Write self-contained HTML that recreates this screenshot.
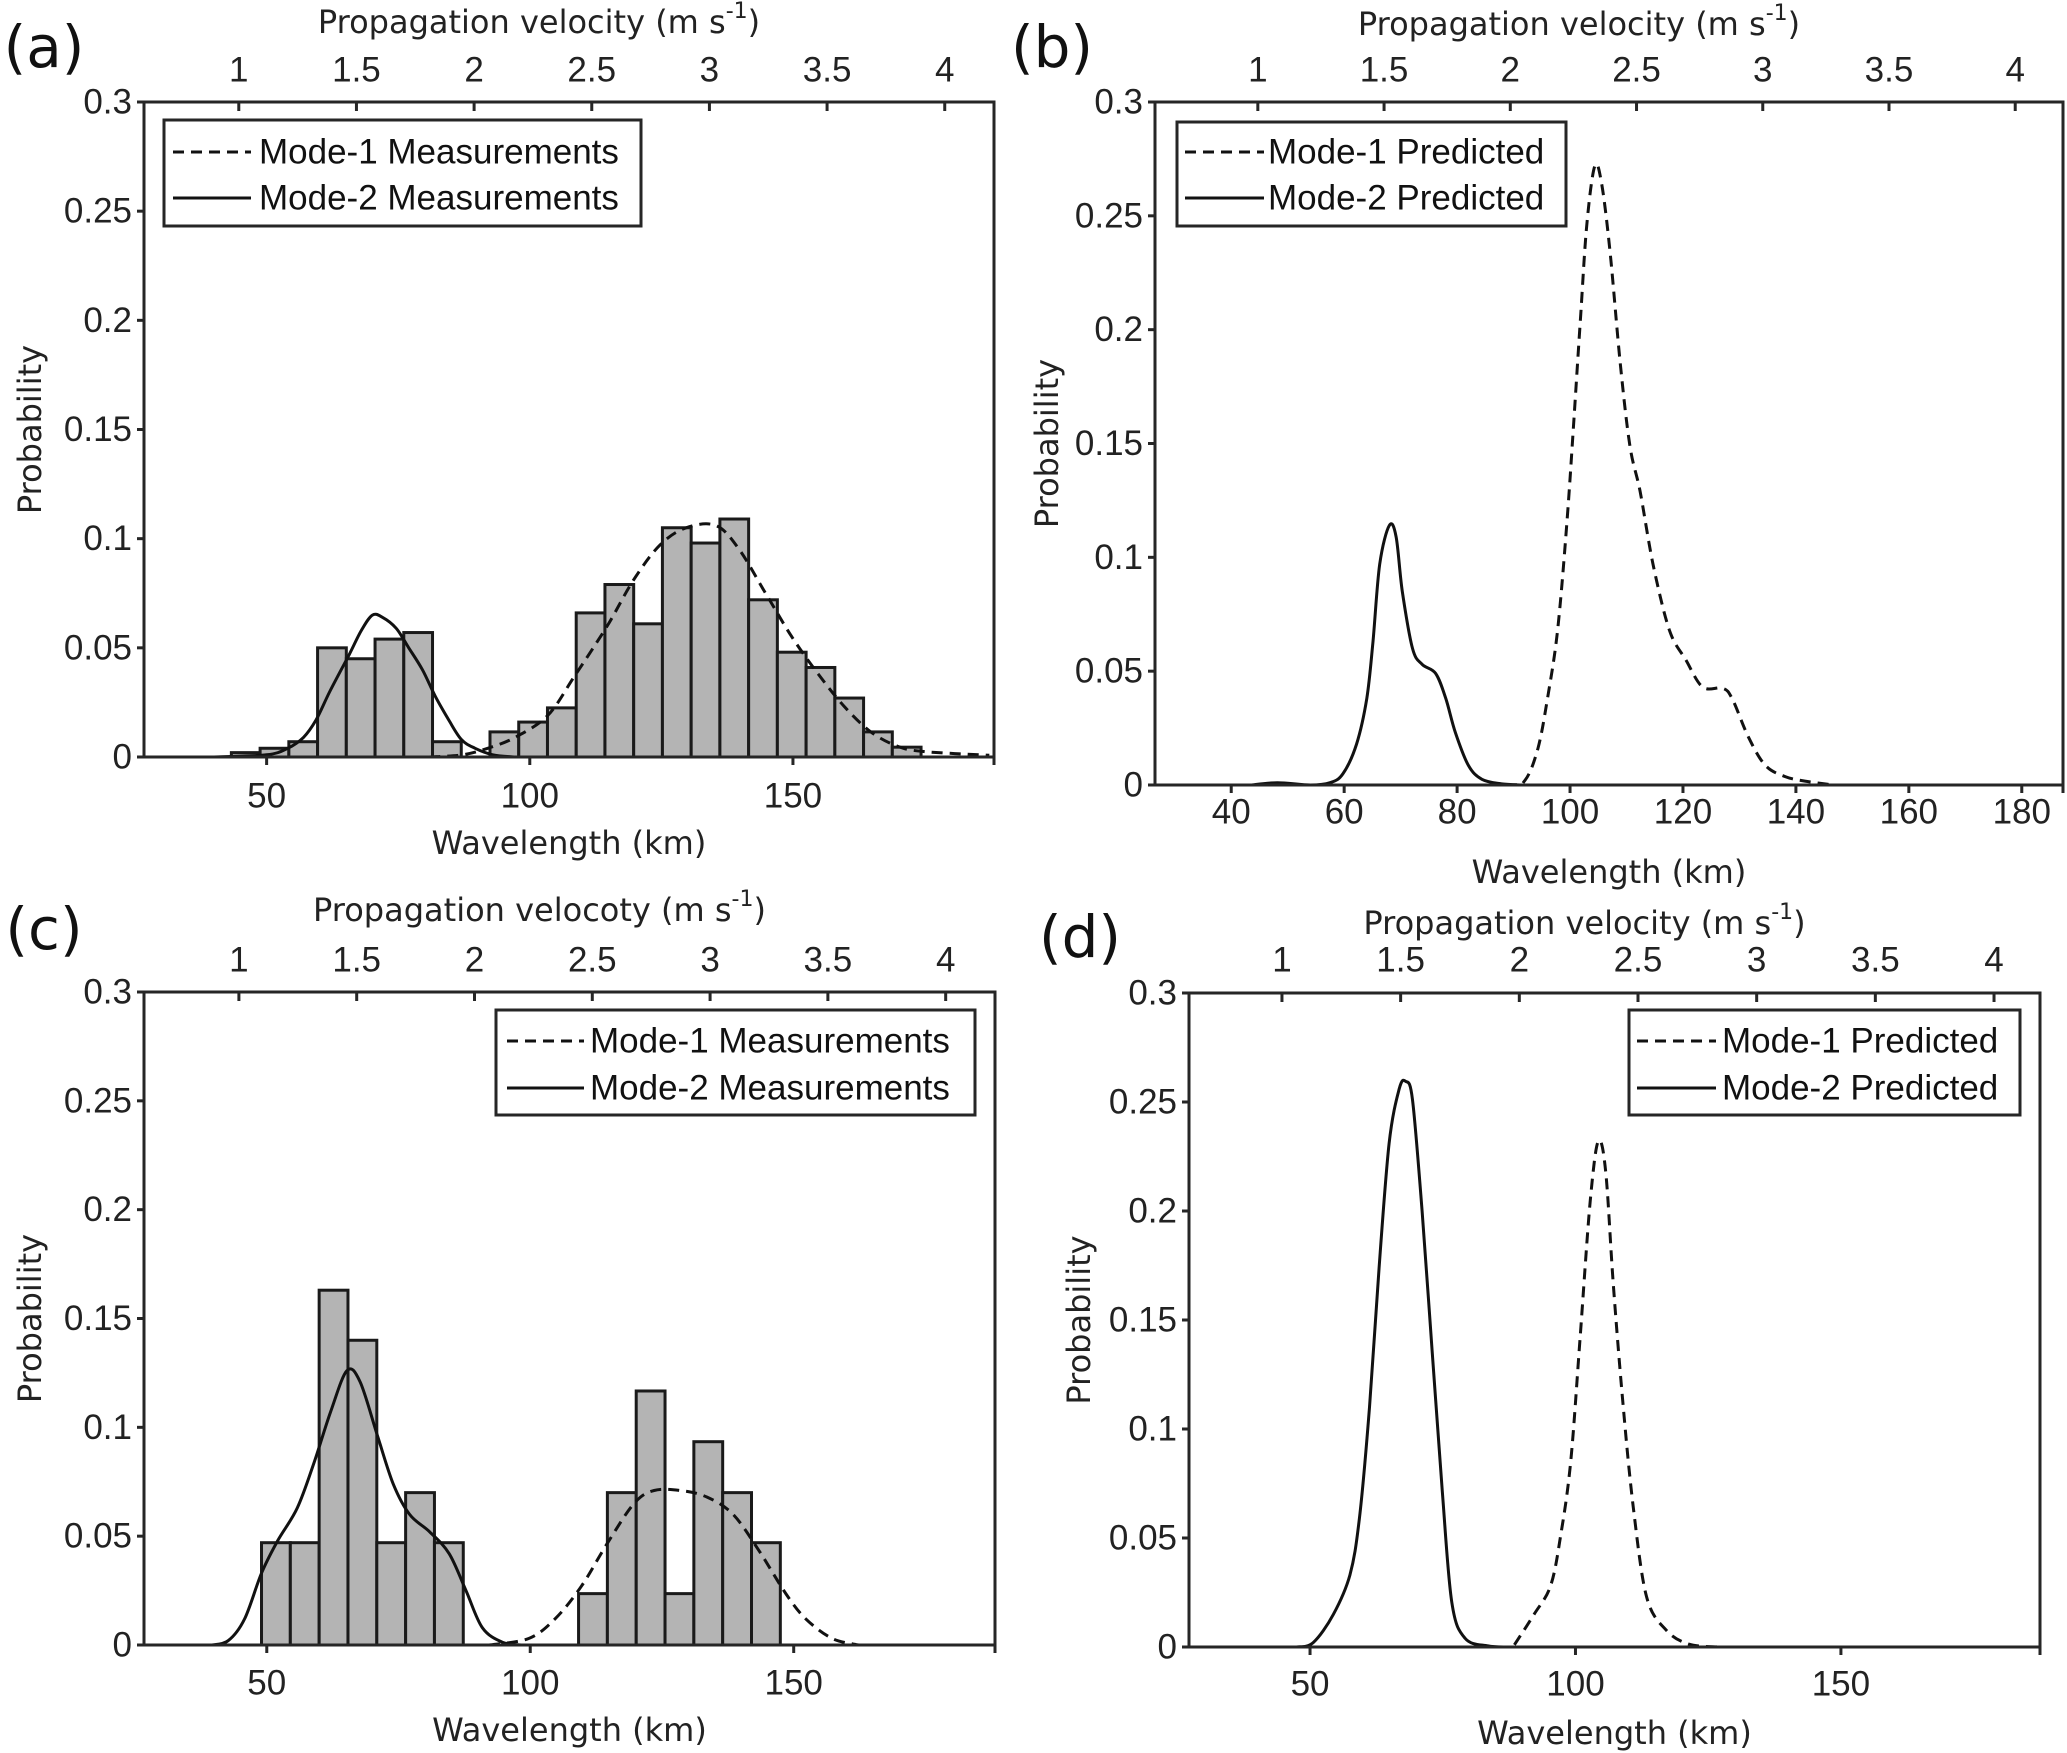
<!DOCTYPE html>
<html><head><meta charset="utf-8"><style>
html,body{margin:0;padding:0;background:#fff}
svg{display:block}
.tk{font-family:"Liberation Sans",sans-serif;font-size:35px;fill:#222}
.tt{font-family:"DejaVu Sans",sans-serif;font-size:32px;fill:#222}
.lg{font-family:"Liberation Sans",sans-serif;font-size:35px;fill:#111}
.pl{font-family:"DejaVu Sans",sans-serif;font-size:58px;fill:#111}
</style></head><body>
<svg id="fig" width="2067" height="1753" viewBox="0 0 2067 1753" xmlns="http://www.w3.org/2000/svg"></svg>
<script>
// ---- data ----
const yTicks=[0,0.05,0.1,0.15,0.2,0.25,0.3];
const yTickLabels=["0","0.05","0.1","0.15","0.2","0.25","0.3"];
const xTicksACD=[50,100,150];
const xTicksB=[40,60,80,100,120,140,160,180];
const vTicks=[1,1.5,2,2.5,3,3.5,4];
const vTickLabels=["1","1.5","2","2.5","3","3.5","4"];
const kmPerMps=44.71;

const aBinStart=43.3, aBinWidth=5.46;
const aHist=[0.002,0.004,0.007,0.05,0.045,0.054,0.057,0.007,0,0.0115,0.016,0.0225,0.066,0.079,0.061,0.105,0.098,0.109,0.072,0.048,0.041,0.027,0.0115,0.0045];
const aMode2X=[40,50,54,57,59.4,62,65.7,68,70.1,72,74.6,77,79.6,82,84.6,87,89.6,93,97];
const aMode2Y=[0,0.001,0.004,0.009,0.017,0.03,0.047,0.058,0.065,0.064,0.059,0.05,0.04,0.028,0.017,0.008,0.004,0.001,0];
const aMode1X=[80.9,87.2,92,97.2,103.4,108.5,114.7,119.7,124.7,129.7,135.4,139.8,144.8,149.8,154.8,159.8,164.8,169.8,174.8,187.3];
const aMode1Y=[0,0.001,0.004,0.009,0.019,0.037,0.06,0.081,0.097,0.105,0.106,0.095,0.075,0.055,0.038,0.023,0.0115,0.005,0.0025,0.0008];

const bMode2X=[43.5,48.2,54,57.5,59.8,62.2,64,65.1,66.3,68,69.2,70.3,72.1,73.8,76.2,78,79.7,82,84.4,87.9,91.4];
const bMode2Y=[0,0.001,0,0.001,0.005,0.018,0.038,0.063,0.097,0.114,0.109,0.085,0.06,0.053,0.049,0.038,0.023,0.0086,0.0025,0.0005,0];
const bMode1X=[72.7,89,92,94.3,96,97.8,99.5,100.7,101.9,103,104.4,105.6,107.1,108.9,110.6,112.4,114.7,117.6,120.5,123.5,127,128.7,131.6,134.6,138.1,141.6,146.8];
const bMode1Y=[0,0,0.002,0.016,0.038,0.068,0.117,0.161,0.207,0.247,0.272,0.264,0.234,0.185,0.149,0.129,0.097,0.068,0.055,0.043,0.0425,0.038,0.021,0.0086,0.0037,0.0017,0];

const cBinStart=49, cBinWidth=5.47;
const cHist=[0.047,0.047,0.163,0.14,0.047,0.07,0.047,0,0,0,0,0.0236,0.07,0.1167,0.0236,0.0934,0.07,0.047];
const cMode2X=[39.6,42.7,45.8,49,52.1,55.8,59,62.1,65.2,67.7,70.9,74,77.1,80.9,84.6,87.8,90.9,94.7,98.4];
const cMode2Y=[0,0.002,0.012,0.033,0.048,0.063,0.084,0.107,0.126,0.121,0.097,0.074,0.06,0.052,0.042,0.025,0.008,0.0013,0];
const cMode1X=[92.2,99.7,104.7,109.7,114.7,119.7,123.5,128.5,133.5,138.5,143.5,148.5,152.3,157.3,162.3];
const cMode1Y=[0,0.003,0.012,0.027,0.047,0.065,0.071,0.071,0.068,0.06,0.043,0.0236,0.012,0.003,0];

const dMode2X=[47.5,50.6,54.4,57.5,59.3,61.2,63,64.9,66.8,68,69.3,71.1,73,74.9,76.7,79.2,83.5,87.3];
const dMode2Y=[0,0.002,0.015,0.033,0.059,0.11,0.174,0.231,0.256,0.2595,0.251,0.2,0.136,0.072,0.0205,0.004,0.0005,0];
const dMode1X=[88.5,92.2,95.3,97.2,99.1,100.9,102.8,104.3,105.7,107.1,109,110.9,113.4,117.1,121.4,127];
const dMode1Y=[0.001,0.015,0.028,0.051,0.085,0.143,0.205,0.232,0.218,0.167,0.11,0.064,0.023,0.0077,0.0013,0];

// ---- layout ----
const svg=document.getElementById('fig');
const NS='http://www.w3.org/2000/svg';
function mk(tag,attrs,parent){const e=document.createElementNS(NS,tag);for(const k in attrs)e.setAttribute(k,attrs[k]);(parent||svg).appendChild(e);return e;}
function txt(s,x,y,cls,anchor,parent){const t=mk('text',{x:x,y:y,class:cls,'text-anchor':anchor||'middle','dominant-baseline':'central'},parent);t.textContent=s;return t;}

const P={
 a:{L:144,R:994,T:102,B:757,x0:26.7,x1:188.2,xt:xTicksACD,label:'(a)',lx:44,ly:47,topT:'Propagation velocity (m s',topY:22,tickTopY:70,botY:796,xlY:843,ylX:30,
    leg:{x:164,y:120,w:477,h:106,lx1:173,lx2:251,tx:259,r1:152,r2:198,t1:'Mode-1 Measurements',t2:'Mode-2 Measurements'}},
 b:{L:1155,R:2063,T:102,B:785,x0:26.5,x1:187.3,xt:xTicksB,label:'(b)',lx:1052,ly:47,topT:'Propagation velocity (m s',topY:24,tickTopY:70,botY:812,xlY:872,ylX:1047,
    leg:{x:1177,y:122,w:389,h:104,lx1:1185,lx2:1264,tx:1268,r1:152,r2:198,t1:'Mode-1 Predicted',t2:'Mode-2 Predicted'}},
 c:{L:144,R:995,T:992,B:1645,x0:26.7,x1:188.2,xt:xTicksACD,label:'(c)',lx:44,ly:929,topT:'Propagation velocoty (m s',topY:910,tickTopY:960,botY:1683,xlY:1730,ylX:30,
    leg:{x:496,y:1010,w:479,h:105,lx1:507,lx2:584,tx:590,r1:1041,r2:1088,t1:'Mode-1 Measurements',t2:'Mode-2 Measurements'}},
 d:{L:1189,R:2040,T:993,B:1647,x0:27.2,x1:187.5,xt:xTicksACD,label:'(d)',lx:1080,ly:937,topT:'Propagation velocity (m s',topY:923,tickTopY:960,botY:1684,xlY:1733,ylX:1079,
    leg:{x:1629,y:1010,w:391,h:105,lx1:1637,lx2:1716,tx:1722,r1:1041,r2:1088,t1:'Mode-1 Predicted',t2:'Mode-2 Predicted'}}
};

function path(p,xs,ys){
 const pts=xs.map((x,i)=>[p.sx(x),p.sy(ys[i])]);
 let d='M'+pts[0][0].toFixed(1)+' '+pts[0][1].toFixed(1);
 for(let i=0;i<pts.length-1;i++){
  const p0=pts[Math.max(0,i-1)],p1=pts[i],p2=pts[i+1],p3=pts[Math.min(pts.length-1,i+2)];
  const c1=[p1[0]+(p2[0]-p0[0])/6,p1[1]+(p2[1]-p0[1])/6];
  const c2=[p2[0]-(p3[0]-p1[0])/6,p2[1]-(p3[1]-p1[1])/6];
  d+='C'+c1[0].toFixed(1)+' '+c1[1].toFixed(1)+' '+c2[0].toFixed(1)+' '+c2[1].toFixed(1)+' '+p2[0].toFixed(1)+' '+p2[1].toFixed(1);
 }
 return d;
}

function drawPanel(key,hist,binStart,binW,m1x,m1y,m2x,m2y){
 const p=P[key];
 p.sx=v=>p.L+(v-p.x0)/(p.x1-p.x0)*(p.R-p.L);
 p.sy=v=>p.B-v/0.3*(p.B-p.T);
 const g=mk('g',{});
 
 
 const clip=mk('clipPath',{id:'clip'+key},g);
 mk('rect',{x:p.L,y:p.T,width:p.R-p.L,height:p.B-p.T},clip);
 const plot=mk('g',{'clip-path':'url(#clip'+key+')'},g);
 
 
 if(hist){
  hist.forEach((v,i)=>{
   if(v<=0)return;
   const x1=p.sx(binStart+i*binW),x2=p.sx(binStart+(i+1)*binW);
   const r=mk('rect',{x:x1,y:p.sy(v),width:x2-x1,height:p.B-p.sy(v),fill:'#b4b4b4',stroke:'#1a1a1a','stroke-width':3},plot);
   
   
  });
 }
 const l1=mk('path',{d:path(p,m1x,m1y),fill:'none',stroke:'#111','stroke-width':3,'stroke-dasharray':'11 7','stroke-linejoin':'round'},plot);
 
 
 const l2=mk('path',{d:path(p,m2x,m2y),fill:'none',stroke:'#111','stroke-width':3,'stroke-linejoin':'round'},plot);
 
 
 const box=mk('rect',{x:p.L,y:p.T,width:p.R-p.L,height:p.B-p.T,fill:'none',stroke:'#262626','stroke-width':3},g);
 
 
 yTicks.forEach((v,i)=>{
  const y=p.sy(v);
  mk('line',{x1:p.L-7,x2:p.L,y1:y,y2:y,stroke:'#262626','stroke-width':3},g);
  const t=txt(yTickLabels[i],p.L-12,y,'tk','end',g);
  
  
 });
 p.xt.forEach(v=>{
  const x=p.sx(v);
  mk('line',{x1:x,x2:x,y1:p.B,y2:p.B+8,stroke:'#262626','stroke-width':3},g);
  const t=txt(String(v),x,p.botY,'tk','middle',g);
  
  
 });
 mk('line',{x1:p.R,x2:p.R,y1:p.B,y2:p.B+8,stroke:'#262626','stroke-width':3},g);
 vTicks.forEach((v,i)=>{
  const x=p.sx(v*kmPerMps);
  mk('line',{x1:x,x2:x,y1:p.T,y2:p.T+9,stroke:'#262626','stroke-width':3},g);
  const t=txt(vTickLabels[i],x,p.tickTopY,'tk','middle',g);
  
  
 });
 const cx=(p.L+p.R)/2;
 const tt=txt('',cx-30,p.topY,'tt','middle',g);
 
 
 tt.appendChild(document.createTextNode(p.topT));
 const sup=document.createElementNS(NS,'tspan');sup.setAttribute('dy','-11');sup.setAttribute('font-size','22');sup.textContent='-1';tt.appendChild(sup);
 const cl=document.createElementNS(NS,'tspan');cl.setAttribute('dy','11');cl.textContent=')';tt.appendChild(cl);
 const xl=txt('Wavelength (km)',cx,p.xlY,'tt','middle',g);
 
 
 const cy=(p.T+p.B)/2;
 const yl=txt('Probability',p.ylX,cy,'tt','middle',g);
 yl.setAttribute('transform','rotate(-90 '+p.ylX+' '+cy+')');
 
 
 const pl=txt(p.label,p.lx,p.ly,'pl','middle',g);
 
 
 const L=p.leg;
 const lg=mk('g',{},g);
 
 
 mk('rect',{x:L.x,y:L.y,width:L.w,height:L.h,fill:'#fff',stroke:'#262626','stroke-width':3},lg);
 mk('line',{x1:L.lx1,x2:L.lx2,y1:L.r1,y2:L.r1,stroke:'#111','stroke-width':3,'stroke-dasharray':'11 7'},lg);
 mk('line',{x1:L.lx1,x2:L.lx2,y1:L.r2,y2:L.r2,stroke:'#111','stroke-width':3},lg);
 const e1=txt(L.t1,L.tx,L.r1,'lg','start',lg);
 
 
 const e2=txt(L.t2,L.tx,L.r2,'lg','start',lg);
 
 
}
drawPanel('a',aHist,aBinStart,aBinWidth,aMode1X,aMode1Y,aMode2X,aMode2Y);
drawPanel('b',null,0,0,bMode1X,bMode1Y,bMode2X,bMode2Y);
drawPanel('c',cHist,cBinStart,cBinWidth,cMode1X,cMode1Y,cMode2X,cMode2Y);
drawPanel('d',null,0,0,dMode1X,dMode1Y,dMode2X,dMode2Y);
</script>
</body></html>
